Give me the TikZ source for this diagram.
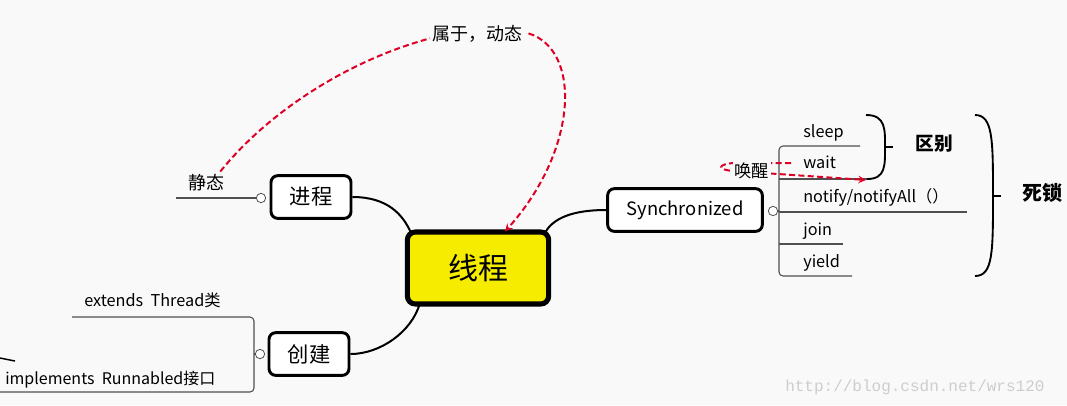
\documentclass[tikz,border=0pt]{standalone}
\usepackage{fontspec}
\setmainfont{Noto Sans CJK SC}
\setmonofont{Liberation Mono}
\usepackage{tikz}
\usetikzlibrary{arrows,positioning,calc}
\definecolor{mmyellow}{RGB}{245,236,0}
\definecolor{mmred}{RGB}{222,0,36}
\definecolor{mmgray}{RGB}{80,80,80}
\definecolor{mmbg}{RGB}{249,249,249}
\definecolor{mmmark}{RGB}{205,205,205}
\tikzstyle{centre} = [rectangle, rounded corners=6pt, minimum width=106pt, minimum height=54pt, draw=black, line width=3.8pt, fill=mmyellow, font=\fontsize{22.5}{26}\selectfont]
\tikzstyle{topic} = [rectangle, rounded corners=5pt, minimum width=60pt, minimum height=32pt, draw=black, line width=2.2pt, fill=white, font=\fontsize{16}{18}\selectfont]
\tikzstyle{leaf} = [anchor=base west, inner sep=0pt, font=\fontsize{12.2}{14}\selectfont]
\tikzstyle{branch} = [line width=1.5pt, black]
\tikzstyle{twig} = [line width=0.8pt, mmgray, rounded corners=3pt]
\tikzstyle{knob} = [circle, draw=mmgray, fill=white, line width=0.6pt, inner sep=0pt, minimum size=7pt]
\tikzstyle{relation} = [mmred, line width=1.5pt, dash pattern=on 4.5pt off 2.5pt, >=stealth]
\tikzstyle{brace} = [line width=1.4pt, black]
\tikzstyle{note} = [anchor=base west, inner sep=0pt, font=\fontsize{13.5}{16}\selectfont]

\begin{document}
\begin{tikzpicture}[x=0.75pt, y=-0.75pt]
    \fill[mmbg] (0,0) rectangle (1067,405);
    \useasboundingbox (0,0) rectangle (1067,405);

    % Nodes
    \node[centre] (thread) at (478,268) {线程};
    \node[topic] (process) at (311,197) {进程};
    \node[topic] (create) at (309,354) {创建};
    \node[topic, minimum width=116pt, font=\fontsize{13.8}{16}\selectfont] (sync) at (685,210) {Synchronized};

    \node[knob] (pknob) at (261,198) {};
    \node[knob] (cknob) at (260,354) {};
    \node[knob] (sknob) at (773,211) {};

    % Leaves
    \node[note] (static) at (188,189) {静态};
    \node[note] (dynamic) at (432,40) {属于，动态};
    \node[leaf] (extends) at (84,306) {extends\ \ Thread类};
    \node[leaf, font=\fontsize{12}{14}\selectfont] (implements) at (5,384) {implements\ \ Runnabled接口};
    \node[leaf] (sleep) at (803,137) {sleep};
    \node[leaf] (wait) at (803,168) {wait};
    \node[leaf] (notify) at (803,202) {notify/notifyAll（）};
    \node[leaf] (join) at (803,235) {join};
    \node[leaf] (yield) at (803,267) {yield};
    \node[font=\bfseries\fontsize{14}{16}\selectfont] (diff) at (934,144) {区别};
    \node[font=\bfseries\fontsize{15}{17}\selectfont] (deadlock) at (1042,193) {死锁};
    \node[anchor=base west, inner sep=0pt, font=\ttfamily\fontsize{12}{14}\selectfont, text=mmmark] (mark) at (785,391) {http://blog.csdn.net/wrs120};

    % Branches
    \draw[branch] (process.east) .. controls +(35,0) and +(-8,-18) .. ($(thread.north west)+(6,3)$);
    \draw[branch] ($(thread.north east)+(-6,3)$) .. controls +(10,-18) and +(-25,0) .. (sync.west);
    \draw[branch] ($(thread.south west)+(15,-3)$) .. controls +(-8,28) and +(30,0) .. (create.east);

    % Twigs
    \coordinate (pend) at (176,198);
    \draw[twig] (pknob.west) -- (pend);
    \draw[twig] (cknob.west) -- (254,354);
    \draw[twig] (72,317) -- (254,317) -- (254,392) -- (0,392);
    \draw[line width=1.1pt, black] (0,358) -- (15,361);
    \draw[twig] (sknob.east) -- (779,211);
    \draw[twig] (860,146) -- (779,146) -- (779,276) -- (852,276);
    \draw[twig] (779,179) -- (870,179);
    \draw[twig] (779,212) -- (967,212);
    \draw[twig] (779,244) -- (843,244);

    % Braces
    \draw[brace] (866,115) .. controls (886,115) and (885,130) .. (885,147) .. controls (885,165) and (886,179) .. (867,179);
    \draw[brace] (885,147) -- (893,147);
    \draw[brace] (975,115) .. controls (993,115) and (993,140) .. (993,196) .. controls (993,252) and (993,276) .. (975,276);
    \draw[brace] (993,196) -- (1001,196);

    % Relations
    \draw[relation] ($(static.north)+(14,-2)$) .. controls (270,110) and (350,60) .. ($(dynamic.west)+(-2,5)$);
    \draw[relation, ->] ($(dynamic.east)+(6,0)$) .. controls (582,50) and (578,150) .. ($(thread.north)+(27,2)$);
    \coordinate (wakeend) at (866,180);
    \draw[relation, ->] ($(wait.base west)+(-12,-5)$) -- (734,163) .. controls (717,164) and (717,170) .. (734,171) -- (wakeend);
    \node[anchor=base west, inner sep=1pt, fill=mmbg, font=\fontsize{13}{15}\selectfont] (wake) at (733,177) {唤醒};
\end{tikzpicture}
\end{document}
